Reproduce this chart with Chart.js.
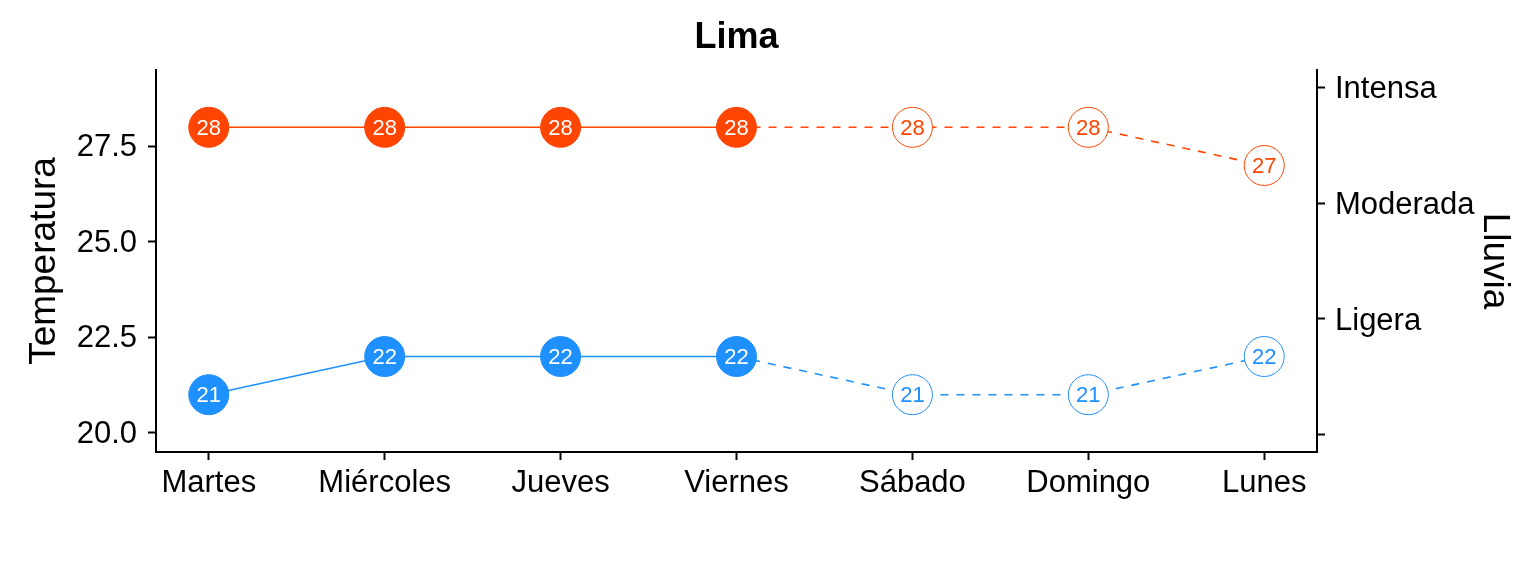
<!DOCTYPE html>
<html>
<head>
<meta charset="utf-8">
<script src="https://cdn.jsdelivr.net/npm/chart.js@4.4.1/dist/chart.umd.min.js"></script>
<style>
  html, body { margin: 0; padding: 0; background: #ffffff; }
  #wrap { width: 1536px; height: 576px; }
</style>
</head>
<body>
<div id="wrap"><canvas id="c" width="1536" height="576"></canvas></div>
<script>
// ---- data ----
const days = ['Martes', 'Miércoles', 'Jueves', 'Viernes', 'Sábado', 'Domingo', 'Lunes'];
const tempMax = [28, 28, 28, 28, 28, 28, 27];
const tempMin = [21, 22, 22, 22, 21, 21, 22];
const observed = [true, true, true, true, false, false, false];
const tempTicks = [20.0, 22.5, 25.0, 27.5];
const rainLevels = ['', 'Ligera', 'Moderada', 'Intensa'];
const chartTitle = 'Lima';
const leftTitle = 'Temperatura';
const rightTitle = 'Lluvia';

// ---- styles ----
const RED = '#FF4500';
const BLUE = '#1E90FF';
const FONT = "'Liberation Sans', Arial, sans-serif";

function series(values, color, label) {
  return {
    label: label,
    data: values.map((v, i) => ({ x: i, y: v })),
    yAxisID: 'y',
    borderColor: color,
    borderWidth: 1.6,
    pointRadius: 20,
    pointHoverRadius: 20,
    pointBorderWidth: 1,
    pointBorderColor: color,
    pointBackgroundColor: observed.map(o => o ? color : '#ffffff'),
    labelColors: observed.map(o => o ? '#ffffff' : color),
    tension: 0,
    fill: false,
    segment: {
      borderDash: ctx => observed[ctx.p1DataIndex] ? undefined : [8, 8]
    }
  };
}

const pointLabels = {
  id: 'pointLabels',
  afterDatasetsDraw(chart) {
    const ctx = chart.ctx;
    ctx.save();
    ctx.font = '22px ' + FONT;
    ctx.textAlign = 'center';
    ctx.textBaseline = 'middle';
    chart.data.datasets.forEach((ds, di) => {
      const meta = chart.getDatasetMeta(di);
      meta.data.forEach((pt, i) => {
        ctx.fillStyle = ds.labelColors[i];
        ctx.fillText(String(ds.data[i].y), pt.x, pt.y + 1.5);
      });
    });
    ctx.restore();
  }
};

// nudge vertical-axis tick labels slightly down to sit centred on the ticks
function nudgeLabels(s, dy) {
  if (s.__nudged) return;
  s.__nudged = true;
  const orig = s._computeLabelItems.bind(s);
  s._computeLabelItems = (ca) => orig(ca).map(it => { it.textOffset += dy; return it; });
}

const axisGrid = {
  display: true,
  drawOnChartArea: false,
  drawTicks: true,
  tickLength: 8,
  tickColor: '#000000',
  tickWidth: 2
};
const axisBorder = { display: true, color: '#000000', width: 2 };

new Chart(document.getElementById('c'), {
  type: 'line',
  data: {
    datasets: [
      series(tempMax, RED, 'Máxima'),
      series(tempMin, BLUE, 'Mínima')
    ]
  },
  options: {
    responsive: false,
    animation: false,
    events: [],
    layout: { padding: 0 },
    plugins: {
      legend: { display: false },
      tooltip: { enabled: false },
      title: {
        display: true,
        text: chartTitle,
        fullSize: false,
        color: '#000000',
        font: { family: FONT, size: 36, weight: 'bold', lineHeight: 1.2 },
        padding: { top: 16, bottom: 10.8 }
      }
    },
    scales: {
      x: {
        type: 'linear',
        position: 'bottom',
        min: -0.3,
        max: days.length - 0.7,
        grid: axisGrid,
        border: axisBorder,
        afterBuildTicks: s => { s.ticks = days.map((d, i) => ({ value: i })); },
        afterFit: s => { s.height = 124; },
        ticks: {
          autoSkip: false,
          maxRotation: 0,
          color: '#000000',
          padding: 5,
          font: { family: FONT, size: 31 },
          callback: v => days[v] !== undefined ? days[v] : ''
        }
      },
      y: {
        type: 'linear',
        position: 'left',
        min: 19.5,
        max: 29.5,
        grid: axisGrid,
        border: axisBorder,
        afterBuildTicks: s => { s.ticks = tempTicks.map(v => ({ value: v })); },
        afterFit: s => { s.width = 156; nudgeLabels(s, 1.5); },
        ticks: {
          color: '#000000',
          padding: 11,
          font: { family: FONT, size: 31 },
          callback: v => Number(v).toFixed(1)
        },
        title: {
          display: true,
          text: leftTitle,
          color: '#000000',
          font: { family: FONT, size: 37 },
          padding: { top: 23, bottom: 0 }
        }
      },
      y2: {
        type: 'linear',
        position: 'right',
        min: -0.15,
        max: 3.15,
        grid: axisGrid,
        border: axisBorder,
        afterBuildTicks: s => { s.ticks = rainLevels.map((l, i) => ({ value: i })); },
        afterFit: s => { s.width = 219; nudgeLabels(s, 2.5); },
        ticks: {
          color: '#000000',
          padding: 10,
          font: { family: FONT, size: 31 },
          callback: v => rainLevels[v] !== undefined ? rainLevels[v] : ''
        },
        title: {
          display: true,
          text: rightTitle,
          color: '#000000',
          font: { family: FONT, size: 37 },
          padding: { top: 20, bottom: 0 }
        }
      }
    }
  },
  plugins: [pointLabels]
});
</script>
</body>
</html>
